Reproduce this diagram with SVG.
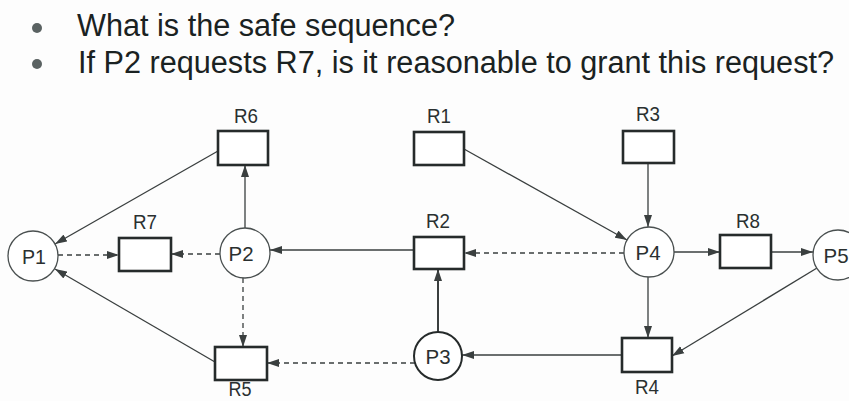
<svg xmlns="http://www.w3.org/2000/svg" width="849" height="401" viewBox="0 0 849 401">
  <defs>
    <marker id="arrow" markerUnits="userSpaceOnUse" markerWidth="12" markerHeight="9" refX="12" refY="4.5" orient="auto">
      <path d="M0,0.5 L12,4.5 L0,8.5 z" fill="#3a3f3f"/>
    </marker>
    <style>
      .title { font-family: "Liberation Sans", Arial, sans-serif; font-size: 31px; fill: #1a2222; }
      .bullet { fill: #5a6262; }
      .lbl { font-family: "Liberation Sans", Arial, sans-serif; font-size: 21px; fill: #2a3030; text-anchor: middle; }
      .lbl.low { font-size: 20px; }
      .res { fill: #ffffff; stroke: #262b2b; stroke-width: 2.6; }
      .proc { fill: #ffffff; stroke: #4a5050; stroke-width: 1.3; }
      .proc.heavy { stroke: #262b2b; stroke-width: 2; }
      .edge { fill: none; stroke: #3a3f3f; stroke-width: 1.3; marker-end: url(#arrow); }
      .edge.req { stroke-dasharray: 5 4; }
      .edge.thick { stroke-width: 2; }
    </style>
  </defs>

  <rect width="849" height="401" fill="#fdfdfd"/>

  <!-- questions -->
  <g id="questions">
    <circle class="bullet" cx="37" cy="28" r="5"/>
    <text class="title" x="77" y="36" textLength="378" lengthAdjust="spacingAndGlyphs">What is the safe sequence?</text>
    <circle class="bullet" cx="37" cy="64" r="5"/>
    <text class="title" x="78" y="73" textLength="756" lengthAdjust="spacingAndGlyphs">If P2 requests R7, is it reasonable to grant this request?</text>
  </g>

  <!-- connectors: solid = assignment, dashed = request -->
  <g id="connectors">
    <line class="edge" x1="218" y1="151" x2="55" y2="244"/>
    <line class="edge" x1="215" y1="362" x2="55" y2="269"/>
    <line class="edge req" x1="58" y1="255" x2="119" y2="255"/>
    <line class="edge req" x1="220" y1="254" x2="171" y2="254"/>
    <line class="edge" x1="245" y1="228" x2="245" y2="165"/>
    <line class="edge req" x1="243" y1="278" x2="243" y2="347"/>
    <line class="edge" x1="414" y1="250" x2="270" y2="250"/>
    <line class="edge req" x1="624" y1="253" x2="464" y2="253"/>
    <line class="edge thick" x1="438" y1="332" x2="438" y2="269"/>
    <line class="edge req" x1="415" y1="363" x2="267" y2="363"/>
    <line class="edge" x1="622" y1="355" x2="462" y2="355"/>
    <line class="edge" x1="464" y1="149" x2="627" y2="240"/>
    <line class="edge" x1="648" y1="163" x2="648" y2="227"/>
    <line class="edge" x1="674" y1="252" x2="720" y2="252"/>
    <line class="edge" x1="771" y1="252" x2="813" y2="252"/>
    <line class="edge" x1="648" y1="277" x2="648" y2="338"/>
    <line class="edge" x1="817" y1="268" x2="672" y2="356"/>
  </g>

  <!-- processes -->
  <g id="P1">
    <circle class="proc" cx="33" cy="256" r="25"/>
    <text class="lbl" x="34" y="264" textLength="24" lengthAdjust="spacingAndGlyphs">P1</text>
  </g>
  <g id="P2">
    <circle class="proc" cx="245" cy="253" r="25"/>
    <text class="lbl" x="241" y="261" textLength="25" lengthAdjust="spacingAndGlyphs">P2</text>
  </g>
  <g id="P3">
    <circle class="proc heavy" cx="438" cy="356" r="24"/>
    <text class="lbl" x="438" y="364" textLength="25" lengthAdjust="spacingAndGlyphs">P3</text>
  </g>
  <g id="P4">
    <circle class="proc" cx="649" cy="252" r="25"/>
    <text class="lbl" x="648" y="260" textLength="25" lengthAdjust="spacingAndGlyphs">P4</text>
  </g>
  <g id="P5">
    <circle class="proc" cx="838" cy="255" r="25"/>
    <text class="lbl" x="836" y="263" textLength="25" lengthAdjust="spacingAndGlyphs">P5</text>
  </g>

  <!-- resources -->
  <g id="R1">
    <rect class="res" x="414" y="132" width="50" height="33"/>
    <text class="lbl" x="439" y="123" textLength="24" lengthAdjust="spacingAndGlyphs">R1</text>
  </g>
  <g id="R2">
    <rect class="res" x="414" y="237" width="50" height="32"/>
    <text class="lbl" x="438" y="228" textLength="24" lengthAdjust="spacingAndGlyphs">R2</text>
  </g>
  <g id="R3">
    <rect class="res" x="623" y="131" width="51" height="32"/>
    <text class="lbl" x="648" y="121" textLength="24" lengthAdjust="spacingAndGlyphs">R3</text>
  </g>
  <g id="R4">
    <rect class="res" x="622" y="338" width="50" height="34"/>
    <text class="lbl" x="647" y="394" textLength="24" lengthAdjust="spacingAndGlyphs">R4</text>
  </g>
  <g id="R5">
    <rect class="res" x="215" y="347" width="52" height="33"/>
    <text class="lbl low" x="240" y="396" textLength="23" lengthAdjust="spacingAndGlyphs">R5</text>
  </g>
  <g id="R6">
    <rect class="res" x="218" y="131" width="50" height="34"/>
    <text class="lbl" x="246" y="123" textLength="24" lengthAdjust="spacingAndGlyphs">R6</text>
  </g>
  <g id="R7">
    <rect class="res" x="119" y="238" width="52" height="33"/>
    <text class="lbl" x="145" y="229" textLength="24" lengthAdjust="spacingAndGlyphs">R7</text>
  </g>
  <g id="R8">
    <rect class="res" x="720" y="235" width="51" height="33"/>
    <text class="lbl" x="748" y="228" textLength="24" lengthAdjust="spacingAndGlyphs">R8</text>
  </g>
</svg>
